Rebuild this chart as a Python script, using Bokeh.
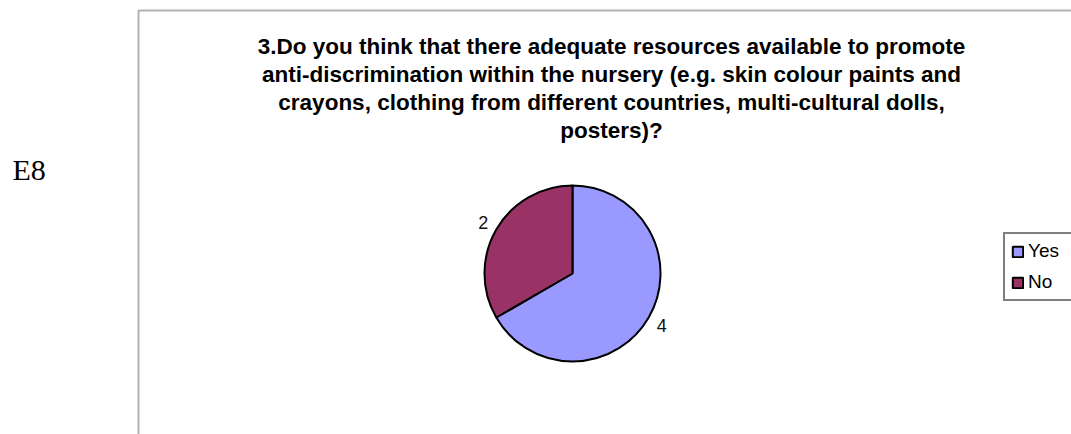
import math
from bokeh.plotting import figure
from bokeh.models import Range1d, ColumnDataSource, Legend, LegendItem, BoxAnnotation
from bokeh.core.properties import value
from bokeh.embed import file_html
from bokeh.resources import INLINE

# ---- data ----
categories = ["Yes", "No"]
counts = [4, 2]
colors = ["#9999FF", "#993366"]
title_lines = [
    "3.Do you think that there adequate resources available to promote",
    "anti-discrimination within the nursery (e.g. skin colour paints and",
    "crayons, clothing from different countries, multi-cultural dolls,",
    "posters)?",
]
side_label = "E8"

# ---- layout helpers (page pixel -> data) ----
W, H = 1071, 434
def px(x):
    return x
def py(y):
    return H - y

p = figure(width=W, height=H, x_range=Range1d(0, W), y_range=Range1d(0, H),
           output_backend="svg", toolbar_location=None, min_border=0)
p.axis.visible = False
p.xgrid.visible = False
p.ygrid.visible = False
p.outline_line_color = None
p.background_fill_color = "white"
p.border_fill_color = "white"

# chart area border (extends past the window)
p.add_layout(BoxAnnotation(left=px(138), top=py(10), right=W + 60, bottom=-60,
                           fill_alpha=0, line_color="#000000", line_width=2))

# side label
p.text(x=[px(12)], y=[py(169)], text=[side_label], text_font=value("Liberation Serif"),
       text_font_size="30px", text_color="black", text_align="left", text_baseline="alphabetic")

# title
tx = [px(611)] * len(title_lines)
ty = [py(46 + 28 * i) for i in range(len(title_lines))]
p.text(x=tx, y=ty, text=title_lines, text_font=value("Liberation Sans"), text_font_style="bold",
       text_font_size="22.5px", text_color="black", text_align="center", text_baseline="alphabetic")

# pie
cx, cy, r = px(572), py(273), 88
total = sum(counts)
cum = [0]
for c in counts:
    cum.append(cum[-1] + c)
starts = [math.pi / 2 - 2 * math.pi * cum[i] / total for i in range(len(counts))]
ends = [math.pi / 2 - 2 * math.pi * cum[i + 1] / total for i in range(len(counts))]
mids = [(s + e) / 2 for s, e in zip(starts, ends)]
src = ColumnDataSource(dict(cat=categories, val=counts, color=colors, start=starts, end=ends))
wr = p.wedge(x=cx, y=cy, radius=r, start_angle="start", end_angle="end", direction="clock",
             fill_color="color", line_color="black", line_width=2, source=src)

lr = 103
p.text(x=[cx + lr * math.cos(m) for m in mids], y=[cy + lr * math.sin(m) for m in mids],
       text=[str(v) for v in counts], text_font=value("Liberation Sans"), text_font_size="18px",
       text_color="#111111", text_align="center", text_baseline="middle")

legend = Legend(items=[LegendItem(label=categories[i], renderers=[wr], index=i) for i in range(len(categories))],
                location=(px(1003), H - 301), orientation="vertical",
                border_line_color="black", border_line_width=2, background_fill_color="white",
                background_fill_alpha=1, padding=6, spacing=9, margin=0,
                glyph_width=13, glyph_height=13, label_standoff=4, label_width=40,
                label_text_font="Liberation Sans", label_text_font_size="19px",
                label_text_color="black")
p.add_layout(legend, "center")

open("out.html", "w").write(file_html(p, INLINE))
